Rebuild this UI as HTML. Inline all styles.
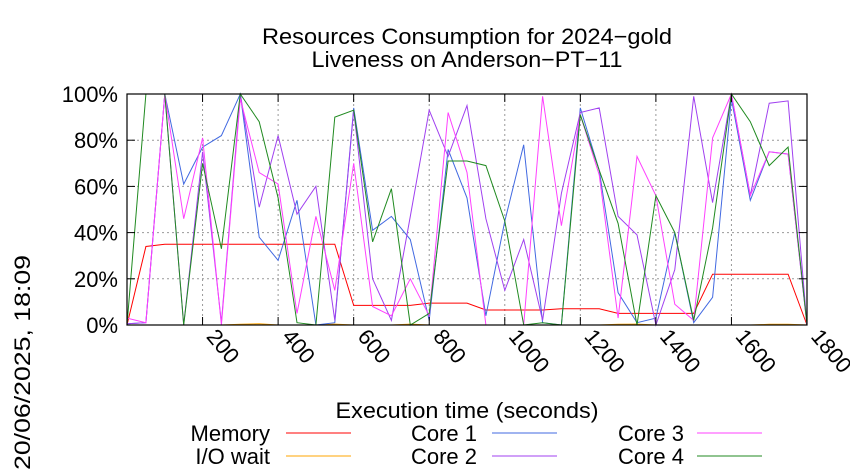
<!DOCTYPE html>
<html><head><meta charset="utf-8"><style>
html,body{margin:0;padding:0;background:#fff;}
svg{display:block;font-family:"Liberation Sans",sans-serif;}
</style></head><body>
<svg id="chart" width="850" height="475" viewBox="0 0 850 475">
<rect x="0" y="0" width="850" height="475" fill="#fff"/>
<text x="467" y="44" font-size="22" text-anchor="middle" textLength="410" lengthAdjust="spacingAndGlyphs">Resources Consumption for 2024−gold</text>
<text x="467" y="67" font-size="22" text-anchor="middle" textLength="311" lengthAdjust="spacingAndGlyphs">Liveness on Anderson−PT−11</text>
<g id="grid"></g>
<g id="series"></g>
<rect x="127" y="94" width="680" height="231" fill="none" stroke="#000" stroke-width="1.2"/>
<g id="axes"></g>
<text x="467" y="418" font-size="22" text-anchor="middle" textLength="263" lengthAdjust="spacingAndGlyphs">Execution time (seconds)</text>
<text transform="translate(30,470) rotate(-90)" font-size="22" textLength="215" lengthAdjust="spacingAndGlyphs">20/06/2025, 18:09</text>
<g id="legend"></g>
</svg>
<script>
const times = [0,50,100,150,200,250,300,350,400,450,500,550,600,650,700,750,800,850,900,950,1000,1050,1100,1150,1200,1250,1300,1350,1400,1450,1500,1550,1600,1650,1700,1750,1800];
const memory = [0,34,35,35,35,35,35,35,35,35,35,35,8.5,8.5,8.5,8.5,9.5,9.5,9.5,6.5,6.5,6.5,6.5,7,7,7,5,5,5,5,5,22,22,22,22,22,0];
const ioWait = [0,0,0,0,0,0,0.3,0.5,0,0,0,0.4,0,0,0,0.4,0,0,0,0,0,0,0,0,0,0,0.3,0.4,0,0,0,0,0,0,0.3,0.3,0];
const core1 = [0.5,1,100,61,77,82,100,38,28,54,0,1,94,41,47,37,2,76,55,4,45,78,1,0,94,67,14,1,3,40,1,12,98,54,75,74,0];
const core2 = [0.5,1,100,0,75,1,100,51,82,48,60,2,93,20,2,47,93,73,95,46,15,37,2,57,92,94,47,39,0,24,99,53,100,56,96,97,0];
const core3 = [3,1,100,46,81,0,98,66,61,5,47,15,70,8,4,20,4,92,66,0,0,0,99,43,91,65,3,73,56,9,2,81,100,56,75,74,0];
const core4 = [0,100,100,0,70,33,100,88,55,1,0,90,93,36,59,0,5,71,71,69,45,0,1,0,91,67,44,0,56,40,2,42,100,88,69,77,0];
const xTicks = [200,400,600,800,1000,1200,1400,1600,1800];
const xTickLabels = ["200","400","600","800","1000","1200","1400","1600","1800"];
const yTicks = [0,20,40,60,80,100];
const yTickLabels = ["0%","20%","40%","60%","80%","100%"];

const NS="http://www.w3.org/2000/svg";
const X0=127,X1=807,Y0=325,Y1=94;
const xs=t=>X0+(t/1800)*(X1-X0);
const ys=v=>Y0-(v/100)*(Y0-Y1);
function mk(tag,attrs,parent){const e=document.createElementNS(NS,tag);for(const k in attrs)e.setAttribute(k,attrs[k]);parent.appendChild(e);return e;}
const grid=document.getElementById('grid'),axes=document.getElementById('axes'),ser=document.getElementById('series'),leg=document.getElementById('legend');
yTicks.forEach((v,i)=>{
  const y=ys(v);
  if(v>0&&v<100){const g=mk('line',{x1:X0,x2:X1,y1:y,y2:y,stroke:'#999','stroke-dasharray':'2,3','stroke-width':1},grid);
  
  }
  const t1=mk('line',{x1:X0,x2:X0+8,y1:y,y2:y,stroke:'#000'},axes);
  
  
  const t2=mk('line',{x1:X1-8,x2:X1,y1:y,y2:y,stroke:'#000'},axes);
  
  
  const tx=mk('text',{x:118,y:y+8,'font-size':22,'text-anchor':'end'},axes);
  tx.textContent=yTickLabels[i];
  
  
});
xTicks.forEach((v,i)=>{
  const x=xs(v);
  if(v<1800){const g=mk('line',{x1:x,x2:x,y1:Y1,y2:Y0,stroke:'#999','stroke-dasharray':'2,3','stroke-width':1},grid);
  
  }
  const t1=mk('line',{x1:x,x2:x,y1:Y0,y2:Y0-8,stroke:'#000'},axes);
  
  
  const t2=mk('line',{x1:x,x2:x,y1:Y1,y2:Y1+8,stroke:'#000'},axes);
  
  
  const tx=mk('text',{transform:`translate(${x+3},${337}) rotate(50)`,'font-size':22},axes);
  tx.textContent=xTickLabels[i];
  
  
});
const seriesDefs=[
 ['Memory',memory,'#ff0000','memory-line'],
 ['I/O wait',ioWait,'#ffa500','io-wait-line'],
 ['Core 1',core1,'#4169e1','core-1-line'],
 ['Core 2',core2,'#a040f0','core-2-line'],
 ['Core 3',core3,'#ff40ff','core-3-line'],
 ['Core 4',core4,'#208a20','core-4-line']];
seriesDefs.forEach(([name,data,col,dn])=>{
  const pts=data.map((v,i)=>xs(times[i]).toFixed(1)+','+ys(v).toFixed(1)).join(' ');
  const p=mk('polyline',{points:pts,fill:'none',stroke:col,'stroke-width':1},ser);
  
  
});
const legPos=[[270,286,433],[270,286,456],[477,492,433],[477,492,456],[684,697,433],[684,697,456]];
seriesDefs.forEach(([name,data,col,dn],i)=>{
  const [tx,lx,y]=legPos[i];
  const t=mk('text',{x:tx,y:y+8,'font-size':22,'text-anchor':'end'},leg);
  t.textContent=name;
  
  
  const l=mk('line',{x1:lx,x2:lx+65,y1:y,y2:y,stroke:col,'stroke-width':1},leg);
  
  
});
</script>
</body></html>
